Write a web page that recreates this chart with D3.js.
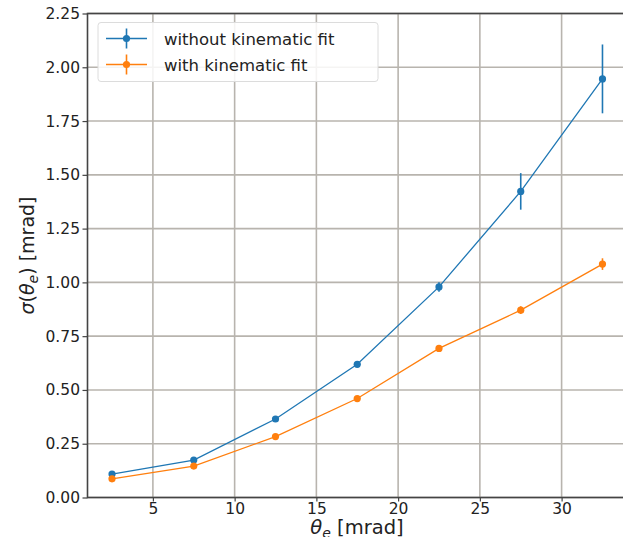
<!DOCTYPE html>
<html>
<head>
<meta charset="utf-8">
<script src="https://cdn.jsdelivr.net/npm/d3@7"></script>
<style>
  body { margin: 0; background: #fff; }
  svg { display: block; font-family: "DejaVu Sans", sans-serif; }
</style>
</head>
<body>
<svg id="chart" width="623" height="537"></svg>
<script>
// data
var theta = [2.5, 7.5, 12.5, 17.5, 22.5, 27.5, 32.5];
var sigmaNoFit = [0.109, 0.174, 0.365, 0.619, 0.979, 1.423, 1.946];
var errNoFit = [0.006, 0.008, 0.010, 0.012, 0.022, 0.085, 0.16];
var sigmaFit = [0.087, 0.146, 0.283, 0.460, 0.693, 0.871, 1.085];
var errFit = [0.005, 0.006, 0.007, 0.009, 0.010, 0.018, 0.027];
var seriesNames = ["without kinematic fit", "with kinematic fit"];
var colors = ["#1f77b4", "#ff7f0e"];
var xTicks = [5, 10, 15, 20, 25, 30];
var yTicks = [0, 0.25, 0.5, 0.75, 1.0, 1.25, 1.5, 1.75, 2.0, 2.25];

var svg = d3.select("#chart");
var pLeft = 87.5, pTop = 13.5, pRight = 627, pBottom = 497.5;

var x = d3.scaleLinear().domain([1, 34]).range([pLeft, pRight]);
var y = d3.scaleLinear().domain([0, 2.25]).range([pBottom, pTop]);

// grid
svg.append("g").selectAll("line").data(xTicks).join("line")
  .attr("x1", d => x(d)).attr("x2", d => x(d))
  .attr("y1", pTop).attr("y2", pBottom)
  .attr("stroke", "#b8b4ae").attr("stroke-width", 1.6);
svg.append("g").selectAll("line").data(yTicks).join("line")
  .attr("x1", pLeft).attr("x2", pRight)
  .attr("y1", d => y(d)).attr("y2", d => y(d))
  .attr("stroke", "#b8b4ae").attr("stroke-width", 1.6);

// axes
var xAxis = svg.append("g").attr("transform", "translate(0," + pBottom + ")")
  .call(d3.axisBottom(x).tickValues(xTicks).tickSize(4).tickPadding(1.5).tickFormat(d3.format("d")));
var yAxis = svg.append("g").attr("transform", "translate(" + pLeft + ",0)")
  .call(d3.axisLeft(y).tickValues(yTicks).tickSize(5).tickPadding(2.5).tickFormat(d3.format(".2f")));
[xAxis, yAxis].forEach(function(a) {
  a.select(".domain").remove();
  a.selectAll("line").attr("stroke", "#444").attr("stroke-width", 1.2);
  a.selectAll("text").attr("fill", "#222").style("font-size", "15.5px").style("font-family", "DejaVu Sans");
});

// frame
svg.append("rect").attr("x", pLeft).attr("y", pTop)
  .attr("width", pRight - pLeft).attr("height", pBottom - pTop)
  .attr("fill", "none").attr("stroke", "#444").attr("stroke-width", 1.6);

// series
var series = [
  {vals: sigmaNoFit, err: errNoFit, color: colors[0]},
  {vals: sigmaFit, err: errFit, color: colors[1]}
];
var line = d3.line().x(d => x(d.t)).y(d => y(d.v));
series.forEach(function(s) {
  var pts = theta.map((t, i) => ({t: t, v: s.vals[i], e: s.err[i]}));
  var g = svg.append("g");
  g.append("path").datum(pts).attr("d", line)
    .attr("fill", "none").attr("stroke", s.color).attr("stroke-width", 1.3);
  g.selectAll("line.err").data(pts).join("line").attr("class", "err")
    .attr("x1", d => x(d.t)).attr("x2", d => x(d.t))
    .attr("y1", d => y(d.v - d.e)).attr("y2", d => y(d.v + d.e))
    .attr("stroke", s.color).attr("stroke-width", 1.6);
  g.selectAll("circle").data(pts).join("circle")
    .attr("cx", d => x(d.t)).attr("cy", d => y(d.v)).attr("r", 3.6)
    .attr("fill", s.color);
});

// legend
var lg = svg.append("g");
lg.append("rect").attr("x", 98).attr("y", 22.5).attr("width", 280).attr("height", 59)
  .attr("rx", 3).attr("fill", "#fff").attr("fill-opacity", 0.85)
  .attr("stroke", "#dcdcdc").attr("stroke-width", 1);
seriesNames.forEach(function(name, i) {
  var cy = 38.5 + i * 26;
  lg.append("line").attr("x1", 106).attr("x2", 147).attr("y1", cy).attr("y2", cy)
    .attr("stroke", colors[i]).attr("stroke-width", 1.3);
  lg.append("line").attr("x1", 126.5).attr("x2", 126.5).attr("y1", cy - 10).attr("y2", cy + 10)
    .attr("stroke", colors[i]).attr("stroke-width", 1.6);
  lg.append("circle").attr("cx", 126.5).attr("cy", cy).attr("r", 3.6).attr("fill", colors[i]);
  lg.append("text").attr("x", 164).attr("y", cy + 6).text(name)
    .attr("fill", "#222").style("font-size", "16.5px");
});

// axis labels
var xl = svg.append("text").attr("x", 357).attr("y", 534)
  .attr("text-anchor", "middle").attr("fill", "#222").style("font-size", "19.5px");
xl.append("tspan").attr("font-style", "italic").text("θ");
xl.append("tspan").attr("font-style", "italic").attr("dy", 4).style("font-size", "14px").text("e");
xl.append("tspan").attr("dy", -4).text(" [mrad]");

var yl = svg.append("text").attr("transform", "translate(34," + ((pTop + pBottom) / 2) + ") rotate(-90)")
  .attr("text-anchor", "middle").attr("fill", "#222").style("font-size", "19px");
yl.append("tspan").attr("font-style", "italic").text("σ");
yl.append("tspan").text("(");
yl.append("tspan").attr("font-style", "italic").text("θ");
yl.append("tspan").attr("font-style", "italic").attr("dy", 4).style("font-size", "14px").text("e");
yl.append("tspan").attr("dy", -4).text(") [mrad]");
</script>
</body>
</html>
